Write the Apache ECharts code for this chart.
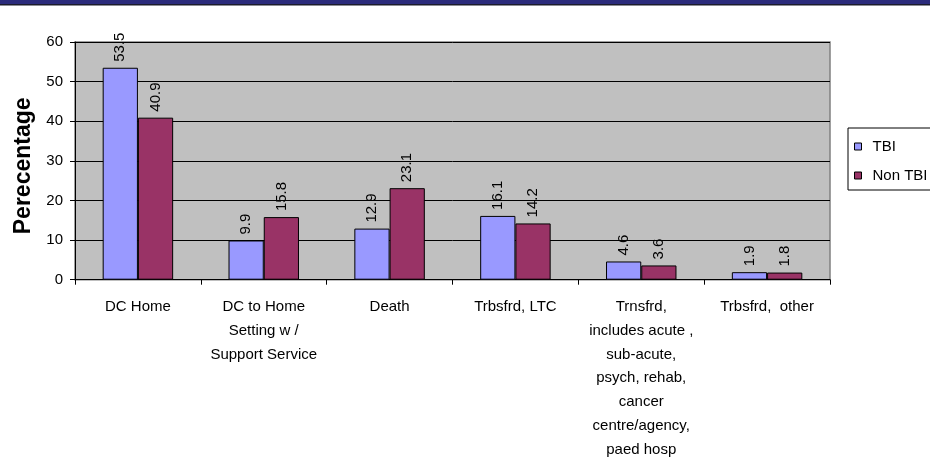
<!DOCTYPE html>
<html>
<head>
<meta charset="utf-8">
<script src="https://cdn.jsdelivr.net/npm/echarts@6/dist/echarts.min.js"></script>
<style>
  html, body { margin: 0; padding: 0; background: #fff; }
  #chart { width: 930px; height: 462px; }
</style>
</head>
<body>
<div id="chart"></div>
<script>
  var categories = [
    'DC Home',
    'DC to Home\nSetting w /\nSupport Service',
    'Death',
    'Trbsfrd, LTC',
    'Trnsfrd,\nincludes acute ,\nsub-acute,\npsych, rehab,\ncancer\ncentre/agency,\npaed hosp',
    'Trbsfrd,  other'
  ];
  var tbi = [53.5, 9.9, 12.9, 16.1, 4.6, 1.9];
  var nonTbi = [40.9, 15.8, 23.1, 14.2, 3.6, 1.8];
  var yTicks = { min: 0, max: 60, interval: 10 };

  var font = 'Liberation Sans, Arial, sans-serif';
  var chart = echarts.init(document.getElementById('chart'));

  // value labels standing upright over each bar
  var barLabel = {
    show: true,
    position: 'top',
    rotate: 90,
    align: 'left',
    verticalAlign: 'middle',
    distance: 6,
    fontSize: 15,
    fontFamily: font,
    color: '#000'
  };

  chart.setOption({
    animation: false,
    backgroundColor: '#fff',
    graphic: [
      { type: 'rect', left: 0, top: 0, shape: { width: 930, height: 4 }, style: { fill: '#2b2b7b' } },
      { type: 'rect', left: 0, top: 4, shape: { width: 930, height: 1.5 }, style: { fill: '#1c1c2c' } }
    ],
    grid: {
      left: 75, right: 100, top: 42, bottom: 181,
      show: true,
      backgroundColor: '#c0c0c0',
      borderColor: '#808080',
      borderWidth: 1.5
    },
    legend: {
      orient: 'vertical',
      left: 848, top: 128,
      padding: [11, 8, 7, 6],
      itemGap: 14,
      itemWidth: 7, itemHeight: 7,
      borderColor: '#000', borderWidth: 1,
      backgroundColor: '#fff',
      icon: 'rect',
      itemStyle: { borderColor: '#000', borderWidth: 1 },
      textStyle: { fontSize: 15, fontFamily: font, color: '#000', lineHeight: 15, padding: [0, 0, 0, 6] },
      data: ['TBI', 'Non TBI']
    },
    xAxis: {
      type: 'category',
      data: categories,
      axisLine: { lineStyle: { color: '#000', width: 1 } },
      axisTick: { show: true, length: 5, lineStyle: { color: '#000' } },
      axisLabel: { interval: 0, margin: 15, fontSize: 15, fontFamily: font, color: '#000', lineHeight: 23.9 }
    },
    yAxis: {
      type: 'value',
      min: yTicks.min, max: yTicks.max, interval: yTicks.interval,
      name: 'Perecentage',
      nameLocation: 'middle',
      nameGap: 40,
      nameTextStyle: { fontSize: 23, fontWeight: 'bold', fontFamily: font, color: '#000', padding: [0, 10, 0, 0] },
      axisLine: { show: true, lineStyle: { color: '#000', width: 1 } },
      axisTick: { show: true, length: 5, lineStyle: { color: '#000' } },
      axisLabel: { margin: 12, fontSize: 15, fontFamily: font, color: '#000' },
      splitLine: { show: true, lineStyle: { color: '#000', width: 1 } }
    },
    series: [
      {
        name: 'TBI', type: 'bar', data: tbi,
        barGap: '0%', barCategoryGap: '44%',
        itemStyle: { color: '#9999ff', borderColor: '#000', borderWidth: 1 },
        label: barLabel
      },
      {
        name: 'Non TBI', type: 'bar', data: nonTbi,
        itemStyle: { color: '#993366', borderColor: '#000', borderWidth: 1 },
        label: barLabel
      }
    ]
  });
</script>
</body>
</html>
